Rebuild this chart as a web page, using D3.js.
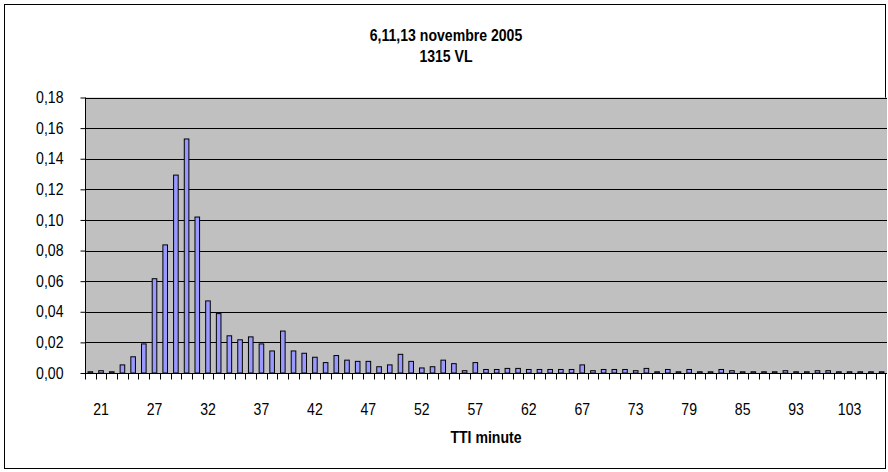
<!DOCTYPE html>
<html>
<head>
<meta charset="utf-8">
<script src="https://cdn.jsdelivr.net/npm/d3@7"></script>
<style>
  body { margin: 0; background: #fff; }
  text { font-family: "Liberation Sans", Arial, sans-serif; }
</style>
</head>
<body>
<div class="container"></div>
<script>
const WIDTH = 888;
const HEIGHT = 472;

const PLOT_LEFT = 85;
const PLOT_RIGHT = 887;
const PLOT_TOP = 97.5;
const PLOT_BOTTOM = 373;

const FONT_SIZE = 16;
const SQUEEZE = 0.88;   // the source chart's text is a little narrow

// TTI (minutes) categories, one per bar
const categories = [20,21,22,24,25,26,27,28,29,30,31,32,33,34,35,36,37,38,39,40,
  41,42,43,44,45,46,47,48,49,50,51,52,53,54,55,56,57,58,59,60,
  61,62,63,64,65,66,67,68,69,70,72,73,74,75,76,78,79,80,81,83,
  84,85,86,88,90,91,93,95,97,99,101,103,106,110,118];

// share of the 1315 vehicles per TTI value
const shares = [0.0008,0.0015,0.0008,0.0053,0.0106,0.0190,0.0616,0.0837,0.1293,0.1529,
  0.1019,0.0471,0.0388,0.0243,0.0217,0.0236,0.0190,0.0144,0.0274,0.0144,
  0.0129,0.0103,0.0068,0.0114,0.0084,0.0076,0.0076,0.0041,0.0053,0.0122,
  0.0076,0.0033,0.0041,0.0084,0.0061,0.0015,0.0068,0.0023,0.0023,0.0030,
  0.0030,0.0023,0.0023,0.0023,0.0023,0.0023,0.0053,0.0015,0.0023,0.0023,
  0.0023,0.0015,0.0030,0.0008,0.0023,0.0008,0.0023,0.0008,0.0008,0.0023,
  0.0015,0.0008,0.0008,0.0008,0.0008,0.0015,0.0008,0.0008,0.0015,0.0015,
  0.0008,0.0008,0.0008,0.0008,0.0008];

const xLabels = [21,27,32,37,42,47,52,57,62,67,73,79,85,93,103];
const yTicks = [0,0.02,0.04,0.06,0.08,0.10,0.12,0.14,0.16,0.18];

const titleLines = ["6,11,13 novembre 2005", "1315 VL"];
const xTitle = "TTI minute";

var data = categories.map(function(c, i){ return {cat: String(c), v: shares[i]}; });

var xScale = d3.scaleBand()
    .domain(data.map(function(d){ return d.cat; }))
    .range([PLOT_LEFT, PLOT_RIGHT]);

var yScale = d3.scaleLinear()
    .domain([0, 0.18])
    .range([PLOT_BOTTOM, PLOT_TOP]);

var fmt = function(v){ return d3.format(".2f")(v).replace(".", ","); };

// narrow a text horizontally around its own x anchor
var squeeze = function(sel){
    sel.attr('transform', function(){
        var x = +d3.select(this).attr('x') || 0;
        return 'translate(' + (x * (1 - SQUEEZE)) + ',0) scale(' + SQUEEZE + ',1)';
    });
};

var svg = d3.select('.container').append('svg')
    .attr('width', WIDTH)
    .attr('height', HEIGHT);

// chart frame
svg.append('rect')
    .attr('x', 4.5).attr('y', 4.5)
    .attr('width', 881).attr('height', 464)
    .attr('fill', '#fff')
    .attr('stroke', '#000');

// plot area
svg.append('rect')
    .attr('x', PLOT_LEFT).attr('y', PLOT_TOP)
    .attr('width', PLOT_RIGHT - PLOT_LEFT).attr('height', PLOT_BOTTOM - PLOT_TOP)
    .attr('fill', '#c0c0c0');

// gridlines
svg.append('g').selectAll('line')
    .data(yTicks.slice(1))
    .enter().append('line')
    .attr('x1', PLOT_LEFT).attr('x2', PLOT_RIGHT)
    .attr('y1', function(d){ return Math.round(yScale(d)) + 0.5; })
    .attr('y2', function(d){ return Math.round(yScale(d)) + 0.5; })
    .attr('stroke', '#000');

// bars
var barW = xScale.bandwidth() * 0.43;
svg.append('g').selectAll('rect')
    .data(data)
    .enter().append('rect')
    .attr('x', function(d){ return xScale(d.cat) + (xScale.bandwidth() - barW) / 2; })
    .attr('y', function(d){ return yScale(d.v); })
    .attr('width', barW)
    .attr('height', function(d){ return PLOT_BOTTOM - yScale(d.v); })
    .attr('fill', '#9999ff')
    .attr('stroke', '#000')
    .attr('stroke-width', 1);

// y axis
var yAxis = d3.axisLeft(yScale)
    .tickValues(yTicks)
    .tickFormat(fmt)
    .tickSize(5)
    .tickPadding(17);

var gy = svg.append('g')
    .attr('transform', 'translate(' + (PLOT_LEFT + 0.5) + ',0)')
    .call(yAxis);
gy.select('.domain').attr('stroke', '#000').attr('d', 'M0,' + PLOT_TOP + 'V' + PLOT_BOTTOM);
gy.selectAll('text').attr('font-size', FONT_SIZE).attr('fill', '#000')
    .attr('font-family', '"Liberation Sans", Arial, sans-serif')
    .call(squeeze);

// x axis: a tick at every category border, labels every fifth category
var gx = svg.append('g')
    .attr('transform', 'translate(0,' + (PLOT_BOTTOM + 0.5) + ')');
gx.append('line')
    .attr('x1', PLOT_LEFT).attr('x2', PLOT_RIGHT)
    .attr('stroke', '#000');
gx.selectAll('line.tick')
    .data(data)
    .enter().append('line')
    .attr('class', 'tick')
    .attr('x1', function(d){ return Math.round(xScale(d.cat)) + 0.5; })
    .attr('x2', function(d){ return Math.round(xScale(d.cat)) + 0.5; })
    .attr('y1', 0).attr('y2', 6)
    .attr('stroke', '#000');
gx.selectAll('text')
    .data(xLabels)
    .enter().append('text')
    .attr('x', function(d){ return xScale(String(d)) + xScale.bandwidth() / 2; })
    .attr('y', 42)
    .attr('text-anchor', 'middle')
    .attr('font-size', FONT_SIZE)
    .text(function(d){ return d; })
    .call(squeeze);

// titles
svg.append('g').selectAll('text')
    .data(titleLines)
    .enter().append('text')
    .attr('x', 446)
    .attr('y', function(d, i){ return 41 + i * 21; })
    .attr('text-anchor', 'middle')
    .attr('font-size', FONT_SIZE)
    .attr('font-weight', 'bold')
    .text(function(d){ return d; })
    .call(squeeze);

svg.append('text')
    .attr('x', (PLOT_LEFT + PLOT_RIGHT) / 2)
    .attr('y', 443)
    .attr('text-anchor', 'middle')
    .attr('font-size', FONT_SIZE)
    .attr('font-weight', 'bold')
    .text(xTitle)
    .call(squeeze);
</script>
</body>
</html>
